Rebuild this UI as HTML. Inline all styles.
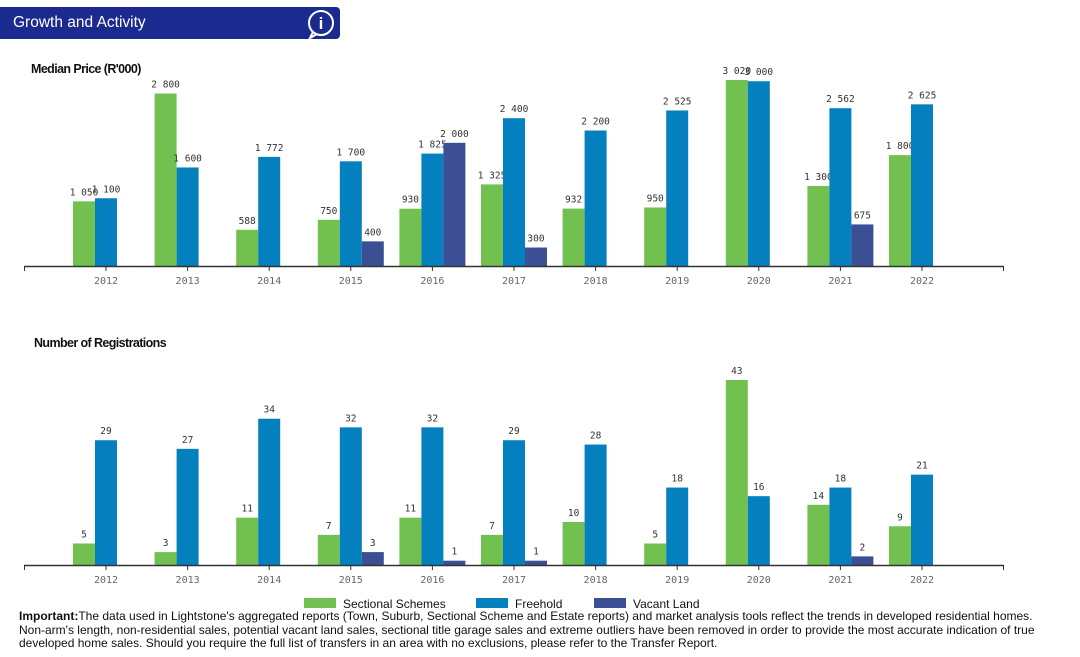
<!DOCTYPE html>
<html><head><meta charset="utf-8"><style>
body{margin:0;width:1080px;height:657px;background:#fff;overflow:hidden;font-family:"Liberation Sans",sans-serif}
#hdr{position:absolute;left:0;top:7px;width:340px;height:32px;background:#1b2a8e;border-radius:0 4px 4px 0;color:#fff;font-size:15.5px;line-height:32px}
#hdr span{position:absolute;left:13px}
#note{position:absolute;left:19px;top:610px;font-size:12px;line-height:13.5px;color:#111;width:1030px}
</style></head><body>
<div id="hdr"><span>Growth and Activity</span>
<svg style="position:absolute;left:305px;top:2px" width="32" height="30"><circle cx="16" cy="14" r="12" fill="none" stroke="#fff" stroke-width="2"/><path d="M8 23 L5 29 L12 25" fill="none" stroke="#fff" stroke-width="2"/><text x="16" y="20" fill="#fff" font-size="17" font-weight="bold" text-anchor="middle" font-family="Liberation Sans">i</text></svg></div>
<svg id="chart" width="1080" height="657" style="position:absolute;left:0;top:0"></svg>
<div id="note"><b>Important:</b>The data used in Lightstone's aggregated reports (Town, Suburb, Sectional Scheme and Estate reports) and market analysis tools reflect the trends in developed residential homes. Non-arm's length, non-residential sales, potential vacant land sales, sectional title garage sales and extreme outliers have been removed in order to provide the most accurate indication of true developed home sales. Should you require the full list of transfers in an area with no exclusions, please refer to the Transfer Report.</div>
<script>
const years=["2012","2013","2014","2015","2016","2017","2018","2019","2020","2021","2022"];
const priceSectional=[1050,2800,588,750,930,1325,932,950,3020,1300,1800];
const priceFreehold=[1100,1600,1772,1700,1825,2400,2200,2525,3000,2562,2625];
const priceVacant=[null,null,null,400,2000,300,null,null,null,675,null];
const regSectional=[5,3,11,7,11,7,10,5,43,14,9];
const regFreehold=[29,27,34,32,32,29,28,18,16,18,21];
const regVacant=[null,null,null,3,1,1,null,null,null,2,null];
const colors=["#72c04f","#0580bf","#3c4f95"];
const svg=document.getElementById('chart');
const NS="http://www.w3.org/2000/svg";
function mk(t,a){const e=document.createElementNS(NS,t);for(const k in a)e.setAttribute(k,a[k]);svg.appendChild(e);return e;}
const xC=i=>106+i*81.6;
function fmt(v){return v>=1000?Math.floor(v/1000)+" "+String(v%1000).padStart(3,"0"):String(v);}
function chart(name,title,titleX,titleY,base,maxV,maxH,series){
  const y=v=>base-v/maxV*maxH;
  let t=mk('text',{x:titleX,y:titleY,'font-size':12.5,'font-weight':'bold','letter-spacing':'-0.6',fill:'#111'});t.textContent=title;
  
  
  series.forEach((s,si)=>{s.forEach((v,i)=>{if(v==null)return;
    const x0=xC(i)-33+si*22;
    const r=mk('rect',{x:x0,y:y(v),width:22,height:base-y(v),fill:colors[si]});
    
    
    const l=mk('text',{x:x0+11,y:y(v)-6,'font-size':9.5,'text-anchor':'middle',fill:'#333','font-family':'DejaVu Sans Mono,monospace'});
    l.textContent=fmt(v);
    
    
  });});
  const ax=mk('line',{x1:24,x2:1004,y1:base+0.5,y2:base+0.5,stroke:'#333','stroke-width':1.5});
  
  
  mk('line',{x1:24.5,x2:24.5,y1:base,y2:base+5,stroke:'#333'});
  mk('line',{x1:1003.5,x2:1003.5,y1:base,y2:base+5,stroke:'#333'});
  years.forEach((yr,i)=>{mk('line',{x1:xC(i),x2:xC(i),y1:base,y2:base+5,stroke:'#333'});
    const tl=mk('text',{x:xC(i),y:base+18,'font-size':10,'text-anchor':'middle',fill:'#666','font-family':'DejaVu Sans Mono,monospace'});tl.textContent=yr;
    
    });
}
chart('price-chart',"Median Price (R'000)",31,73,266,3020,186,[priceSectional,priceFreehold,priceVacant]);
chart('registrations-chart',"Number of Registrations",34,347,565,43,185,[regSectional,regFreehold,regVacant]);
const leg=[["Sectional Schemes",304],["Freehold",476],["Vacant Land",594]];
leg.forEach((l,i)=>{const r=mk('rect',{x:l[1],y:598,width:32,height:10,fill:colors[i]});
  
  
  const t=mk('text',{x:l[1]+39,y:608,'font-size':12,fill:'#111'});t.textContent=l[0];
  
  });
</script>
</body></html>
